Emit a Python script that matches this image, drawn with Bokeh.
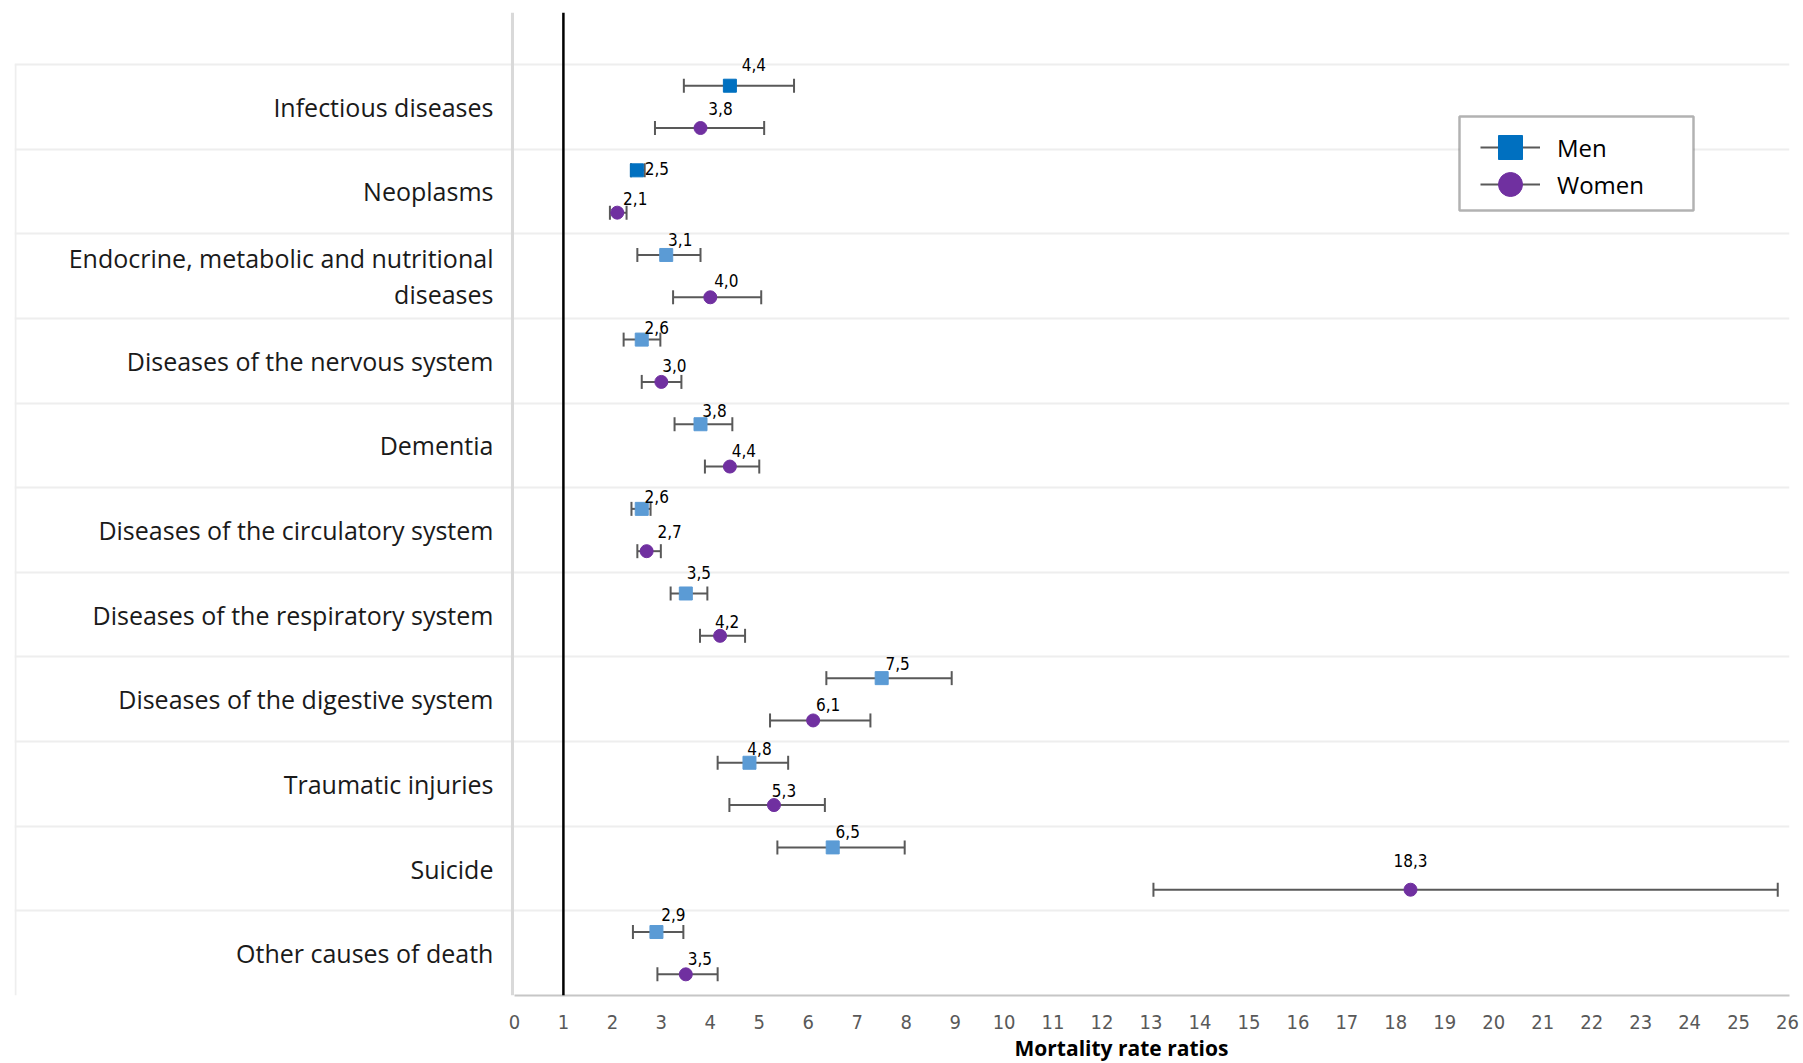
import math
import textwrap
from bokeh.plotting import figure
from bokeh.models import (ColumnDataSource, Range1d, FixedTicker, Span, Legend,
                          LegendItem, BoxAnnotation, Title)
from bokeh.core.properties import value
from bokeh.embed import file_html
from bokeh.resources import INLINE

# ---------------- data ----------------
categories = [
    "Infectious diseases",
    "Neoplasms",
    "Endocrine, metabolic and nutritional diseases",
    "Diseases of the nervous system",
    "Dementia",
    "Diseases of the circulatory system",
    "Diseases of the respiratory system",
    "Diseases of the digestive system",
    "Traumatic injuries",
    "Suicide",
    "Other causes of death",
]
men = [4.4, 2.5, 3.1, 2.6, 3.8, 2.6, 3.5, 7.5, 4.8, 6.5, 2.9]
men_low = [3.46, 2.38, 2.51, 2.23, 3.27, 2.39, 3.19, 6.37, 4.15, 5.37, 2.42]
men_high = [5.71, 2.66, 3.80, 2.98, 4.45, 2.78, 3.94, 8.93, 5.59, 7.97, 3.45]
women = [3.8, 2.1, 4.0, 3.0, 4.4, 2.7, 4.2, 6.1, 5.3, 18.3, 3.5]
women_low = [2.87, 1.95, 3.24, 2.60, 3.89, 2.51, 3.79, 5.22, 4.39, 13.05, 2.92]
women_high = [5.10, 2.29, 5.04, 3.41, 5.00, 2.99, 4.71, 7.27, 6.34, 25.80, 4.15]
x_ticks = list(range(0, 27))

# ---------------- styles ----------------
DARK_BLUE = "#0070C0"
LIGHT_BLUE = "#5B9BD5"
PURPLE = "#7030A0"
ERR = "#595959"
NARROW = "'DejaVu Sans Condensed', Roboto, sans-serif"
men_colors = [DARK_BLUE, DARK_BLUE] + [LIGHT_BLUE] * 9
# data-label offsets in pixels (dx, dy)
men_lab_dx = [24, 20, 14, 15, 14, 15, 13, 16, 10, 15, 17]
men_lab_dy = [-21, -2, -15, -12, -14, -12, -21, -15, -14, -16, -18]
women_lab_dx = [20, 18, 16, 13, 14, 23, 7, 15, 10, 0, 14]
women_lab_dy = [-20, -14, -17, -16, -16, -20, -14, -16, -15, -29, -16]

n = len(categories)
pos = [n - 1 - i for i in range(n)]
men_y = [p_ + 0.25 for p_ in pos]
women_y = [p_ - 0.25 for p_ in pos]

def fmt(v):
    return f"{v:.1f}".replace(".", ",")

men_src = ColumnDataSource(dict(x=men, y=men_y, lo=men_low, hi=men_high, color=men_colors,
                                lab=[fmt(v) for v in men], dx=men_lab_dx, dy=men_lab_dy))
women_src = ColumnDataSource(dict(x=women, y=women_y, lo=women_low, hi=women_high,
                                  lab=[fmt(v) for v in women], dx=women_lab_dx, dy=women_lab_dy))
caps_src = ColumnDataSource(dict(x=men_low + men_high + women_low + women_high,
                                 y=men_y + men_y + women_y + women_y))
cat_src = ColumnDataSource(dict(y=pos, text=[textwrap.fill(c, 37) for c in categories]))

p = figure(frame_width=1775, frame_height=983, output_backend="svg", toolbar_location=None,
           x_range=Range1d(-10.21, 26.04), y_range=Range1d(-0.5, 11.115),
           min_border_left=14, min_border_right=14, min_border_top=12, min_border_bottom=0)
p.outline_line_color = None
p.background_fill_color = "white"
p.border_fill_color = "white"

p.yaxis.visible = False
p.xgrid.visible = False
p.ygrid.ticker = FixedTicker(ticks=[k + 0.5 for k in range(-1, n)])
p.ygrid.grid_line_color = "#eeeeee"
p.ygrid.grid_line_width = 2

ax = p.xaxis[0]
ax.ticker = FixedTicker(ticks=x_ticks)
ax.bounds = (0, 26.04)
ax.axis_line_color = "#c6c6c6"
ax.axis_line_width = 2
ax.major_tick_line_color = None
ax.minor_tick_line_color = None
ax.major_label_text_font = NARROW
ax.major_label_text_font_size = "20px"
ax.major_label_text_color = "#595959"
ax.major_label_standoff = 13

p.add_layout(Title(text="Mortality rate ratios", align="left", offset=1000, standoff=0,
                   text_font="Open Sans", text_font_style="bold", text_font_size="21px",
                   text_color="black"), "below")

# table borders
p.segment(x0=[-10.19], y0=[-0.5], x1=[-10.19], y1=[10.5], line_color="#eeeeee", line_width=2)
p.add_layout(Span(location=-0.04, dimension="height", line_color="#d9d9d9", line_width=3))
p.add_layout(Span(location=1, dimension="height", line_color="black", line_width=2.5))

# category labels
p.text(x=0, y="y", text="text", source=cat_src, x_offset=-21,
       text_align="right", text_baseline="middle", text_font=value("Open Sans"),
       text_font_size="25px", text_color="#1a1a1a", text_line_height=1.05)

# error bars
men_seg = p.segment(x0="lo", y0="y", x1="hi", y1="y", source=men_src, line_color=ERR, line_width=2)
women_seg = p.segment(x0="lo", y0="y", x1="hi", y1="y", source=women_src, line_color=ERR, line_width=2)
p.scatter(x="x", y="y", source=caps_src, marker="dash", angle=math.pi / 2, size=14,
          line_color=ERR, line_width=2)

men_sc = p.scatter(x="x", y="y", source=men_src, marker="square", size=13,
                   fill_color="color", line_color="color")
women_sc = p.scatter(x="x", y="y", source=women_src, marker="circle", size=13,
                     fill_color=PURPLE, line_color=PURPLE)

for src in (men_src, women_src):
    p.text(x="x", y="y", text="lab", source=src, x_offset="dx", y_offset="dy",
           text_align="center", text_baseline="middle",
           text_font=value(NARROW), text_font_size="17px", text_color="black")

# legend (border box + one legend per series)
box = BoxAnnotation(left=1445, right=1679, top=879, bottom=785,
                    left_units="screen", right_units="screen", top_units="screen", bottom_units="screen",
                    fill_color="white", fill_alpha=1, line_color="black", line_width=2.5)
p.add_layout(box)
legend_style = dict(orientation="vertical", glyph_width=60, glyph_height=60, spacing=0,
                    padding=0, margin=0, label_standoff=17, border_line_color=None,
                    background_fill_alpha=0, label_text_font="Open Sans",
                    label_text_font_size="24px", label_text_color="black")
p.add_layout(Legend(items=[LegendItem(label="Men", renderers=[men_seg, men_sc])],
                    location=(1466, 818), **legend_style))
p.add_layout(Legend(items=[LegendItem(label="Women", renderers=[women_seg, women_sc])],
                    location=(1466, 781), **legend_style))

open("out.html", "w").write(file_html(p, INLINE))
